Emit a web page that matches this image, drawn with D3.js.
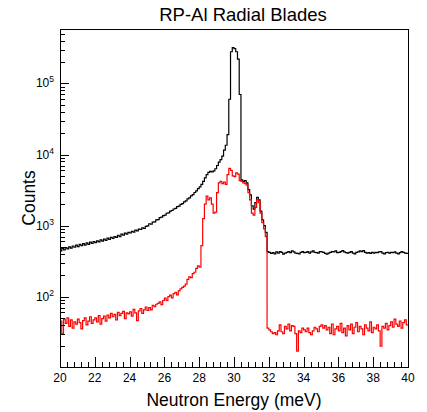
<!DOCTYPE html>
<html>
<head>
<meta charset="utf-8">
<script src="https://cdn.jsdelivr.net/npm/d3@7"></script>
<style>
  body { margin: 0; background: #fff; }
  svg { display: block; font-family: "Liberation Sans", Arial, Helvetica, sans-serif; }
</style>
</head>
<body>
<svg id="chart" width="427" height="412"></svg>
<script>
// histogram binning (meV)
const binStart = 20;
const binWidth = 0.1;

// all blades (black), 200 bins from 20 to 40 meV
const allCounts = [
  440, 475, 455, 490, 470, 500, 480, 515, 495, 530,
  505, 545, 520, 555, 530, 570, 545, 585, 560, 595,
  575, 610, 590, 630, 605, 645, 620, 665, 640, 680,
  660, 700, 680, 730, 700, 755, 730, 780, 755, 800,
  785, 830, 810, 865, 840, 890, 880, 930, 915, 975,
  990, 1060, 1050, 1120, 1130, 1200, 1210, 1290, 1310, 1380,
  1400, 1490, 1510, 1600, 1630, 1710, 1740, 1850, 1880, 1990,
  2030, 2160, 2220, 2370, 2450, 2620, 2720, 2920, 3080, 3320,
  3500, 3800, 4200, 4700, 5200, 5600, 5800, 5700, 5900, 6300,
  7000, 7800, 8500, 9500, 11500, 13500, 19000, 60000, 280000, 320000,
  310000, 280000, 220000, 70000, 4400, 4200, 4300, 4000, 3200, 2700,
  1900, 1700, 2100, 2500, 2300, 1600, 1200, 1000, 800, 430,
  420, 405, 415, 400, 425, 410, 430, 420, 395, 410,
  420, 430, 415, 440, 425, 410, 405, 400, 420, 430,
  415, 420, 430, 410, 425, 440, 420, 415, 410, 430,
  425, 420, 405, 395, 410, 420, 430, 425, 440, 415,
  420, 430, 445, 425, 415, 410, 420, 430, 410, 400,
  420, 425, 440, 430, 445, 420, 410, 415, 405, 420,
  410, 420, 415, 425, 430, 410, 400, 415, 420, 410,
  420, 415, 425, 410, 400, 415, 430, 420, 410, 405
];

// selected events (red)
const selCounts = [
  45, 30, 48, 42, 50, 38, 47, 36, 44, 41,
  48, 43, 35, 46, 50, 40, 45, 52, 42, 47,
  50, 44, 54, 41, 49, 53, 45, 55, 50, 58,
  52, 56, 47, 60, 54, 58, 62, 49, 59, 57,
  61, 53, 66, 59, 46, 63, 68, 58, 65, 71,
  64, 70, 65, 75, 72, 78, 80, 84, 77, 88,
  95, 88, 100, 105, 96, 110, 115, 106, 120, 128,
  135, 140, 150, 175, 190, 185, 210, 220, 250, 270,
  260, 520, 1250, 2000, 2600, 2300, 2450, 2000, 1500, 1550,
  2900, 4000, 4200, 3900, 4100, 3800, 5200, 6400, 6000, 5000,
  4900, 5500, 5300, 4300, 4200, 4000, 3900, 3700, 2900, 2300,
  1500, 1400, 1800, 2300, 2100, 1500, 1100, 900, 700, 36,
  34, 32, 30, 31, 29, 33, 40, 32, 30, 38,
  35, 41, 33, 39, 38, 30, 17, 33, 31, 36,
  34, 32, 36, 31, 29, 33, 37, 35, 32, 38,
  40, 36, 39, 34, 37, 30, 41, 29, 35, 38,
  33, 42, 31, 36, 28, 39, 34, 41, 30, 37,
  43, 32, 38, 35, 29, 40, 36, 33, 44, 31,
  37, 35, 40, 33, 20, 38, 36, 42, 34, 39,
  44, 37, 48, 41, 38, 45, 36, 43, 47, 40
];

const xTickValues = [20, 22, 24, 26, 28, 30, 32, 34, 36, 38, 40];
const yDecades = [2, 3, 4, 5];

const titleText = "RP-Al Radial Blades";
const xTitle = "Neutron Energy (meV)";
const yTitle = "Counts";

const width = 427, height = 412;
const margin = { top: 29, right: 19, bottom: 45, left: 60 };

const svg = d3.select("#chart");

const x = d3.scaleLinear()
  .domain([20, 40])
  .range([margin.left, width - margin.right]);

const y = d3.scaleLog()
  .domain([10.2, 5.85e5])
  .range([height - margin.bottom, margin.top]);

svg.append("rect")
  .attr("width", width)
  .attr("height", height)
  .attr("fill", "white");

// histogram outlines
function toSteps(counts) {
  const pts = counts.map((c, i) => ({ e: binStart + i * binWidth, c }));
  pts.push({ e: binStart + counts.length * binWidth, c: counts[counts.length - 1] });
  return pts;
}

const step = d3.line()
  .curve(d3.curveStepAfter)
  .x(d => x(d.e))
  .y(d => y(d.c));

svg.append("path")
  .datum(toSteps(allCounts))
  .attr("fill", "none")
  .attr("stroke", "black")
  .attr("stroke-width", 1.2)
  .attr("d", step);

svg.append("path")
  .datum(toSteps(selCounts))
  .attr("fill", "none")
  .attr("stroke", "#ff0000")
  .attr("stroke-width", 1.2)
  .attr("d", step);

// frame
const x0 = margin.left, x1 = width - margin.right;
const y0 = height - margin.bottom, y1 = margin.top;

svg.append("rect")
  .attr("x", x0 + 0.5)
  .attr("y", y1 + 0.5)
  .attr("width", x1 - x0)
  .attr("height", y0 - y1)
  .attr("fill", "none")
  .attr("stroke", "black")
  .attr("stroke-width", 1);

// x axis ticks (ROOT style, inside the frame)
const xMinor = d3.range(20, 40.001, 0.4);
svg.append("g")
  .selectAll("line")
  .data(xMinor)
  .join("line")
  .attr("x1", d => Math.round(x(d)) + 0.5)
  .attr("x2", d => Math.round(x(d)) + 0.5)
  .attr("y1", y0)
  .attr("y2", d => xTickValues.some(t => Math.abs(t - d) < 1e-6) ? y0 - 10 : y0 - 5)
  .attr("stroke", "black");

svg.append("g")
  .selectAll("text")
  .data(xTickValues)
  .join("text")
  .attr("x", d => x(d))
  .attr("y", y0 + 15)
  .attr("text-anchor", "middle")
  .attr("font-size", 12)
  .text(d => d);

// y axis ticks (log)
const yMinor = [];
for (let p = 1; p <= 5; p++) {
  for (let m = 1; m <= 9; m++) {
    const v = m * Math.pow(10, p);
    if (v >= y.domain()[0] && v <= y.domain()[1]) yMinor.push({ v, major: m === 1 });
  }
}

svg.append("g")
  .selectAll("line")
  .data(yMinor)
  .join("line")
  .attr("x1", x0)
  .attr("x2", d => d.major ? x0 + 9 : x0 + 5)
  .attr("y1", d => Math.round(y(d.v)) + 0.5)
  .attr("y2", d => Math.round(y(d.v)) + 0.5)
  .attr("stroke", "black");

const yLab = svg.append("g")
  .selectAll("text")
  .data(yDecades)
  .join("text")
  .attr("x", x0 - 6)
  .attr("y", d => y(Math.pow(10, d)) + 4)
  .attr("text-anchor", "end")
  .attr("font-size", 12);

yLab.append("tspan").text("10");
yLab.append("tspan")
  .attr("dy", -5)
  .attr("font-size", 8.5)
  .text(d => d);

// titles
svg.append("text")
  .attr("x", 243)
  .attr("y", 21)
  .attr("text-anchor", "middle")
  .attr("font-size", 18.5)
  .text(titleText);

svg.append("text")
  .attr("x", (x0 + x1) / 2)
  .attr("y", 406)
  .attr("text-anchor", "middle")
  .attr("font-size", 17.5)
  .text(xTitle);

svg.append("text")
  .attr("transform", `translate(35,${(y0 + y1) / 2}) rotate(-90)`)
  .attr("text-anchor", "middle")
  .attr("font-size", 17.5)
  .text(yTitle);
</script>
</body>
</html>
